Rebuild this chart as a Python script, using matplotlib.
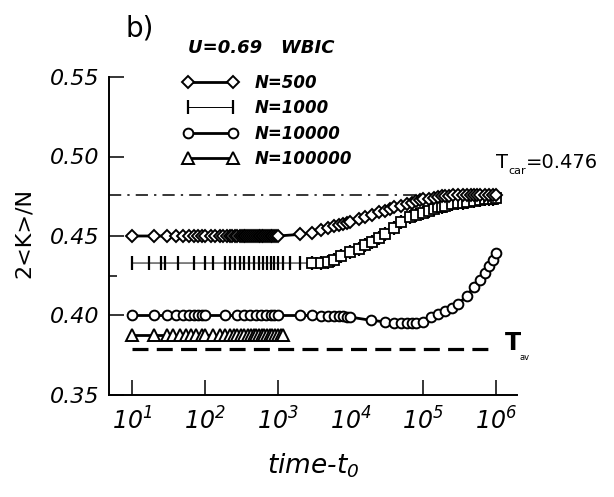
import numpy as np
import matplotlib
matplotlib.use("Agg")
import matplotlib.pyplot as plt

plt.rcParams['font.family'] = ['DejaVu Sans']
plt.rcParams['mathtext.fontset'] = 'custom'
plt.rcParams['mathtext.rm'] = 'DejaVu Sans:italic'
plt.rcParams['mathtext.it'] = 'DejaVu Sans:italic'
plt.rcParams['mathtext.default'] = 'it'

# N=500 (diamonds)
t500 = [10, 20, 30, 40, 50, 60, 70, 80, 90, 100, 120, 140, 160, 180, 200, 220, 240, 260, 280,
        300, 320, 340, 360, 380, 400, 430, 460, 490, 520, 550, 580, 610, 640, 680, 720, 760,
        800, 850, 900, 950, 1000,
        2000, 3000, 4000, 5000, 6000, 7000, 8000, 9000, 10000, 13000, 16000, 20000, 25000,
        30000, 35000, 40000, 50000, 60000, 70000, 80000, 90000, 100000,
        120000, 140000, 160000, 180000, 200000, 230000, 260000, 300000, 350000, 400000,
        450000, 500000, 550000, 600000, 700000, 800000, 900000, 1000000]
v500 = [0.450] * 41 + [
        0.451, 0.452, 0.4535, 0.455, 0.456, 0.457, 0.4575, 0.458, 0.459, 0.4605, 0.462, 0.463, 0.465,
        0.466, 0.467, 0.468, 0.469, 0.470, 0.471, 0.472, 0.4725, 0.473,
        0.4735, 0.474, 0.4745, 0.475, 0.475, 0.475, 0.4755, 0.4755, 0.4755, 0.476,
        0.476, 0.476, 0.476, 0.476, 0.476, 0.476, 0.476, 0.476]

# N=1000 (bars / squares)
t1000 = [10, 17, 25, 28, 43, 70, 100, 130, 190, 220, 260, 300, 350, 400, 470, 550, 630,
         720, 800, 900, 1000, 1200, 1500, 2000,
         3000, 4000, 5000, 6000, 7500, 10000, 13000, 16000, 20000, 25000, 30000, 40000,
         50000, 65000, 80000, 100000, 120000, 140000, 160000, 180000, 200000, 250000, 300000,
         350000, 400000, 500000, 600000, 700000, 800000, 900000, 1000000]
v1000 = [0.433] * 24 + [
         0.433, 0.433, 0.4335, 0.435, 0.4375, 0.440, 0.442, 0.4445, 0.446, 0.4485, 0.451, 0.455,
         0.4585, 0.462, 0.4635, 0.4645, 0.466, 0.467, 0.468, 0.4685, 0.469, 0.470, 0.4705,
         0.471, 0.4715, 0.472, 0.4725, 0.473, 0.4735, 0.4735, 0.474]

# N=10000 (circles)
t10000 = [10, 20, 30, 40, 50, 60, 70, 80, 90, 100, 190, 280, 350, 420, 500, 600, 700,
          800, 900, 1000, 2000, 3000, 4000, 5000, 6000, 7000, 8000, 9000, 10000,
          19000, 30000, 40000, 50000, 60000, 70000, 80000, 100000, 130000, 160000,
          200000, 250000, 300000, 400000, 500000, 600000, 700000, 800000, 900000, 1000000]
v10000 = [0.400] * 22 + [
          0.3995, 0.3995, 0.3995, 0.3995, 0.3995, 0.399, 0.399,
          0.397, 0.396, 0.3955, 0.3955, 0.3955, 0.3955, 0.3955, 0.396, 0.399, 0.401,
          0.403, 0.405, 0.407, 0.4125, 0.418, 0.4225, 0.427, 0.431, 0.435, 0.439]

# N=100000 (triangles)
t100000 = [10, 20, 30, 37, 45, 55, 65, 75, 90, 100, 130, 160, 190, 220, 250, 280, 310, 350,
           390, 430, 470, 510, 560, 610, 660, 720, 780, 850, 920, 1000, 1100, 1200]
v100000 = [0.3875] * 32

T_CAR = 0.476
T_AV = 0.379

fig = plt.figure(figsize=(6.14, 4.97), dpi=100)
ax = fig.add_axes([109 / 614, 102 / 497, 408 / 614, 318 / 497])

mk = dict(color='black', mfc='white', mec='black', mew=1.4)
ax.plot(t1000, v1000, marker='|', ms=10, lw=0.7, mew=1.6, color='black', label='N=1000', zorder=3)
ax.plot(t1000[24:], v1000[24:], ls='none', marker='s', ms=7, mfc='white', mec='black', mew=1.3, zorder=3)
ax.plot(t500, v500, marker='D', ms=6.5, lw=2.0, label='N=500', zorder=4, **mk)
ax.plot(t10000, v10000, marker='o', ms=7, lw=2.0, label='N=10000', zorder=4, **mk)
ax.plot(t100000, v100000, marker='^', ms=8, lw=2.0, label='N=100000', zorder=4, **mk)

ax.plot([10 ** 0.683, 1e6], [T_CAR, T_CAR], color='black', lw=1.1, ls=(0, (8, 4, 1.5, 4)), zorder=2)
ax.plot([10, 1e6], [T_AV, T_AV], color='black', lw=2.3, ls=(0, (5, 2.6)), zorder=2)

ax.set_xscale('log')
ax.set_xlim(10 ** 0.683, 10 ** 6.29)
ax.set_ylim(0.35, 0.55)
ax.minorticks_off()

xt = [10, 100, 1000, 10000, 100000, 1000000]
ax.set_xticks(xt)
ax.set_xticklabels([r"$10^{%d}$" % k for k in range(1, 7)], fontsize=17)
ax.set_yticks([0.35, 0.40, 0.45, 0.50, 0.55])
ax.set_yticklabels(["0.35", "0.40", "0.45", "0.50", "0.55"], fontsize=16, fontstyle='italic')
ax.set_yticks([0.425], minor=True)
ax.tick_params(axis='both', which='major', direction='in', length=11, width=1.1, pad=7)
ax.tick_params(axis='y', which='minor', direction='in', length=6, width=1.1)
ax.tick_params(axis='x', pad=9)
ax.xaxis.get_major_ticks()[3].tick1line.set_visible(False)

for s in ['top', 'right']:
    ax.spines[s].set_visible(False)
for s in ['left', 'bottom']:
    ax.spines[s].set_linewidth(1.4)

handles, labels = ax.get_legend_handles_labels()
order = [1, 0, 2, 3]
leg = ax.legend([handles[i] for i in order], [labels[i] for i in order],
                loc='upper left', bbox_to_anchor=(59 / 408, 1.058), frameon=False,
                numpoints=2, handlelength=3.3, handletextpad=1.0, labelspacing=0.45,
                prop=dict(size=12, weight='bold', style='italic'))

fig.text(125 / 614, 1 - 28 / 497, "b)", fontsize=20, ha='left', va='center', fontstyle='normal')
fig.text(188 / 614, 1 - 48 / 497, "U=0.69   WBIC", fontsize=13, fontweight='bold',
         fontstyle='italic', ha='left', va='center')
fig.text(496 / 614, 1 - 162 / 497, "T", fontsize=14, ha='left', va='center')
fig.text(508 / 614, 1 - 171 / 497, "car", fontsize=8, ha='left', va='center')
fig.text(526 / 614, 1 - 162 / 497, "=0.476", fontsize=14, ha='left', va='center')
fig.text(505 / 614, 1 - 343 / 497, "T", fontsize=17, fontweight='bold', ha='left', va='center')
fig.text(520 / 614, 1 - 358 / 497, "av", fontsize=6, ha='left', va='center')

fig.text(24 / 614, 1 - 233 / 497, "2<K>/N", fontsize=16, rotation=90, ha='center', va='center')
fig.text(313 / 614, 1 - 466 / 497, r"time-t$_0$", fontsize=19, fontstyle='italic',
         ha='center', va='center')

fig.savefig("out.png", dpi=100)
